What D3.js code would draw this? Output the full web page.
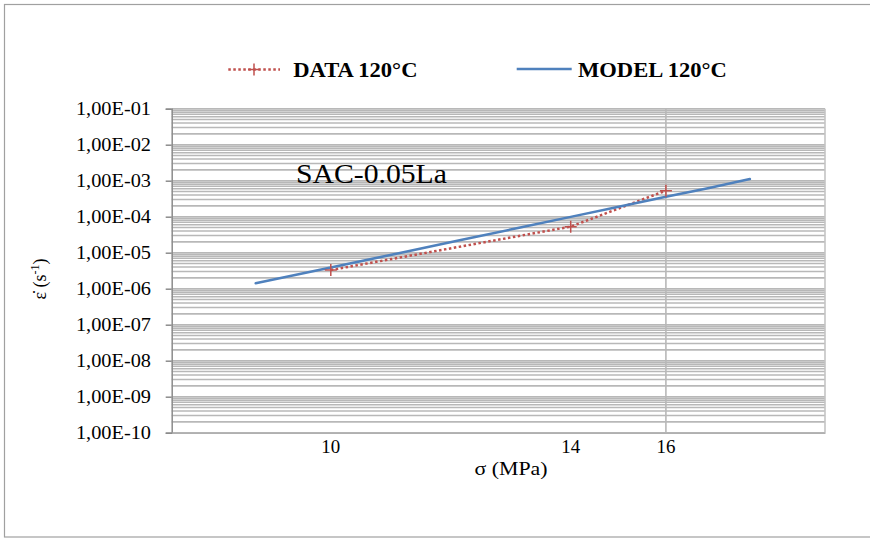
<!DOCTYPE html>
<html>
<head>
<meta charset="utf-8">
<script src="https://cdn.jsdelivr.net/npm/d3@7"></script>
<style>
  html, body { margin: 0; padding: 0; background: #fff; }
  svg { display: block; }
</style>
</head>
<body>
<div id="chart"></div>
<script>
// ---- data ----
const dataSigma = [10, 14, 16];
const dataRate = [3.3e-6, 5.3e-5, 5.3e-4];
const modelSigma = [9, 10, 11, 12, 13, 14, 15, 16, 17, 18];
const modelRate = [1.41e-6, 3.9e-6, 9.7e-6, 2.25e-5, 4.85e-5, 9.9e-5, 1.92e-4, 3.58e-4, 6.3e-4, 1.11e-3];
const xTicks = [10, 14, 16];
const xGridLines = [16];
const yTicks = [1e-1, 1e-2, 1e-3, 1e-4, 1e-5, 1e-6, 1e-7, 1e-8, 1e-9, 1e-10];
const yTickLabels = ["1,00E-01", "1,00E-02", "1,00E-03", "1,00E-04", "1,00E-05",
                     "1,00E-06", "1,00E-07", "1,00E-08", "1,00E-09", "1,00E-10"];
const seriesNames = ["DATA 120°C", "MODEL 120°C"];
const annotation = "SAC-0.05La";

// ---- layout ----
const W = 870, H = 539;
const FONT = "'Liberation Serif', 'Times New Roman', 'DejaVu Serif', serif";
const plot = { left: 171.7, right: 825, top: 108.7, bottom: 432.7 };
const red = "#c0504d", blue = "#4f81bd", grid = "#b8b8b8";

const svg = d3.select("#chart").append("svg").attr("width", W).attr("height", H)
  .attr("font-family", FONT);

// outer chart border
svg.append("rect").attr("x", 4.5).attr("y", 4.5).attr("width", 880).attr("height", 532.5)
  .attr("fill", "#fff").attr("stroke", "#a0a0a0").attr("stroke-width", 1.2);

const x = d3.scaleLog().domain([8, 20]).range([plot.left, plot.right]);
const y = d3.scaleLog().domain([1e-10, 1e-1]).range([plot.bottom, plot.top]);

// horizontal gridlines: decades + minor 2..9
const gridVals = [];
for (let e = -10; e < -1; e++) {
  for (let m = 1; m <= 9; m++) gridVals.push(m * Math.pow(10, e));
}
gridVals.push(1e-1);
svg.append("g").selectAll("line").data(gridVals).join("line")
  .attr("x1", plot.left).attr("x2", plot.right)
  .attr("y1", d => y(d)).attr("y2", d => y(d))
  .attr("stroke", grid).attr("stroke-width", 1.6);

// vertical gridline
svg.append("g").selectAll("line").data(xGridLines).join("line")
  .attr("x1", d => x(d)).attr("x2", d => x(d))
  .attr("y1", plot.top).attr("y2", plot.bottom)
  .attr("stroke", grid).attr("stroke-width", 1.6);

// plot border (right)
svg.append("line").attr("x1", plot.right).attr("x2", plot.right)
  .attr("y1", plot.top).attr("y2", plot.bottom).attr("stroke", "#c4c4c4").attr("stroke-width", 1.6);

// y axis
const yAxis = d3.axisLeft(y).tickValues(yTicks).tickSize(6).tickFormat("");
const gy = svg.append("g").attr("transform", `translate(${plot.left},0)`).call(yAxis);
gy.select(".domain").attr("stroke", "#8c8c8c").attr("stroke-width", 1.5);
gy.selectAll(".tick line").attr("stroke", "#8c8c8c").attr("stroke-width", 1.5);

// y tick labels (horizontally stretched serif)
svg.append("g").selectAll("text").data(yTicks).join("text")
  .attr("transform", d => `translate(151,${y(d) + 6}) scale(1.13,1)`)
  .attr("text-anchor", "end").attr("font-size", 18).attr("font-family", FONT).attr("fill", "#000")
  .text((d, i) => yTickLabels[i]);

// x axis
const xAxis = d3.axisBottom(x).tickValues(xTicks).tickSize(0).tickFormat("");
const gx = svg.append("g").attr("transform", `translate(0,${plot.bottom})`).call(xAxis);
gx.select(".domain").attr("stroke", "#b0b0b0").attr("stroke-width", 1.5);

svg.append("g").selectAll("text").data(xTicks).join("text")
  .attr("transform", d => `translate(${x(d)},453.3) scale(1.05,1)`)
  .attr("text-anchor", "middle").attr("font-size", 18).attr("font-family", FONT).attr("fill", "#000")
  .text(d => d);

// axis titles
svg.append("text").attr("transform", "translate(511,475) scale(1.15,1)")
  .attr("text-anchor", "middle").attr("font-size", 19).attr("font-family", FONT).attr("fill", "#000")
  .text("σ (MPa)");

const yt = svg.append("text").attr("transform", "translate(46,279) rotate(-90)")
  .attr("text-anchor", "middle").attr("font-size", 18).attr("font-family", FONT).attr("fill", "#000");
yt.append("tspan").text("ε̇ (s");
yt.append("tspan").attr("font-size", 12).attr("dy", -7).text("-1");
yt.append("tspan").attr("dy", 7).text(")");

// series
const dataPts = dataSigma.map((s, i) => [s, dataRate[i]]);
const modelPts = modelSigma.map((s, i) => [s, modelRate[i]]);
const line = d3.line().x(d => x(d[0])).y(d => y(d[1]));

svg.append("path").datum(dataPts).attr("d", line)
  .attr("fill", "none").attr("stroke", red).attr("stroke-width", 2.5)
  .attr("stroke-dasharray", "2.5,2.5");

svg.append("path").datum(modelPts).attr("d", line)
  .attr("fill", "none").attr("stroke", blue).attr("stroke-width", 2.5)
  .attr("stroke-linejoin", "round").attr("stroke-linecap", "round");

svg.append("g").selectAll("path").data(dataPts).join("path")
  .attr("transform", d => `translate(${x(d[0])},${y(d[1])})`)
  .attr("d", "M-6,0H6M0,-6V6")
  .attr("stroke", red).attr("stroke-width", 1.5).attr("fill", "none");

// annotation
svg.append("text").attr("transform", "translate(296,183.3) scale(1.1,1)")
  .attr("font-size", 27).attr("font-family", FONT).attr("fill", "#000").text(annotation);

// legend
const lg = svg.append("g");
lg.append("line").attr("x1", 228.3).attr("x2", 280).attr("y1", 69.5).attr("y2", 69.5)
  .attr("stroke", red).attr("stroke-width", 2.5).attr("stroke-dasharray", "2.5,2.5");
lg.append("path").attr("d", "M248,69.5H260M254,63.5V75.5").attr("stroke", red).attr("stroke-width", 1.5);
lg.append("text").attr("transform", "translate(293.3,76.7) scale(1.05,1)")
  .attr("font-size", 21.5).attr("font-weight", "bold").attr("font-family", FONT).attr("fill", "#000")
  .text(seriesNames[0]);
lg.append("line").attr("x1", 516.7).attr("x2", 571.7).attr("y1", 69).attr("y2", 69)
  .attr("stroke", blue).attr("stroke-width", 2.5);
lg.append("text").attr("transform", "translate(578,76.7) scale(1.05,1)")
  .attr("font-size", 21.5).attr("font-weight", "bold").attr("font-family", FONT).attr("fill", "#000")
  .text(seriesNames[1]);
</script>
</body>
</html>
